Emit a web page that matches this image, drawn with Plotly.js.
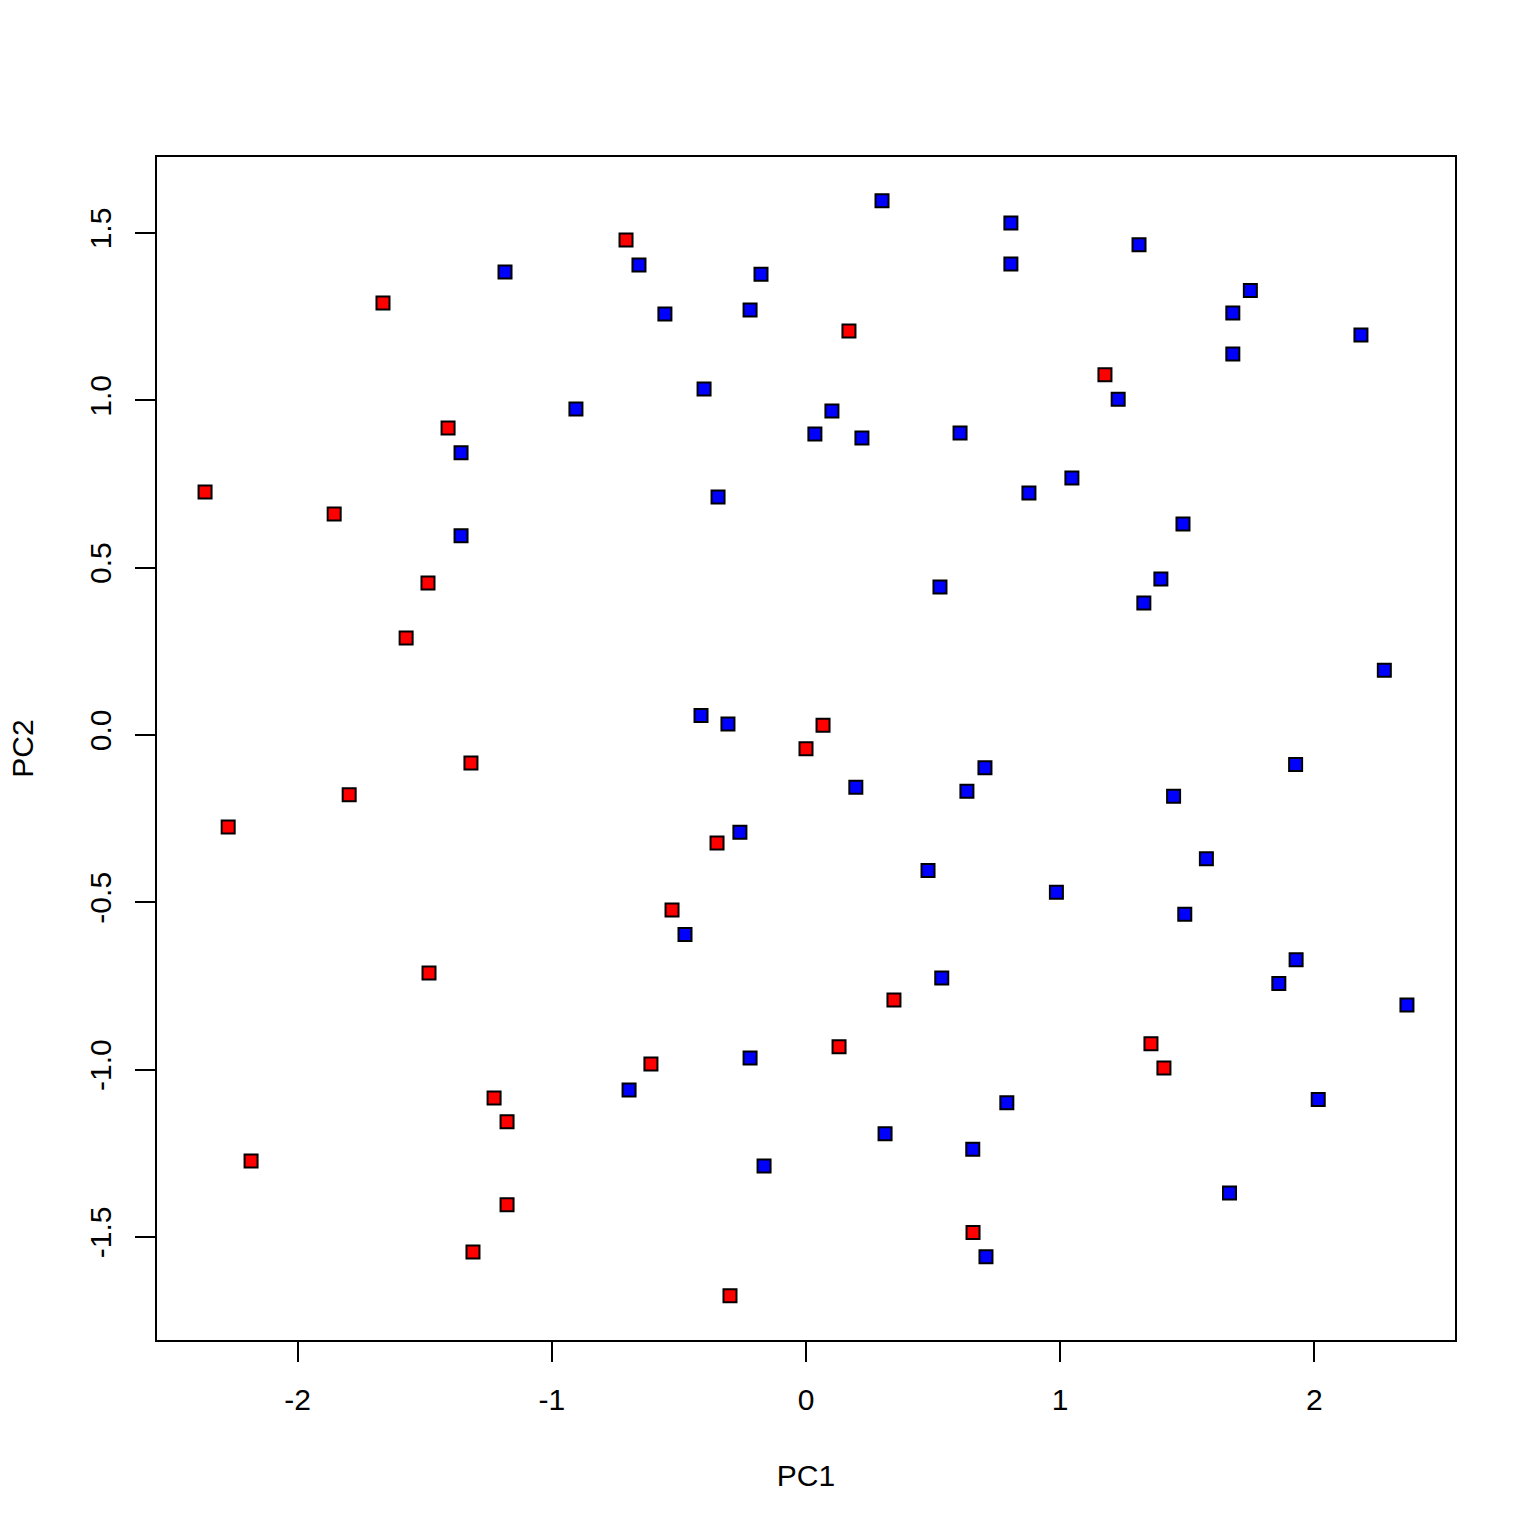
<!DOCTYPE html>
<html>
<head>
<meta charset="utf-8">
<script src="https://cdn.plot.ly/plotly-3.0.1.min.js"></script>
<style>html,body{margin:0;padding:0;background:#fff;}#chart{width:1536px;height:1536px;}</style>
</head>
<body>
<div id="chart"></div>
<script>
// Group 1 (red)
const redPC1 = [-2.364, -2.273, -2.183, -1.856, -1.797, -1.664, -1.573, -1.487, -1.483, -1.408,
                -1.318, -1.310, -1.227, -1.176, -1.176, -0.708, -0.610, -0.527, -0.350, -0.299,
                 0.000,  0.067,  0.130,  0.169,  0.346,  0.657,  1.176,  1.357,  1.408];
const redPC2 = [ 0.726, -0.275, -1.273,  0.660, -0.179,  1.291,  0.290,  0.454, -0.711,  0.917,
                -0.084, -1.545, -1.085, -1.156, -1.404,  1.479, -0.983, -0.523, -0.323, -1.676,
                -0.041,  0.029, -0.932,  1.207, -0.792, -1.487,  1.076, -0.923, -0.995];
// Group 2 (blue)
const bluePC1 = [-1.184, -1.357, -1.357, -0.905, -0.657, -0.555, -0.401, -0.346, -0.220, -0.177,
                 -0.413, -0.307, -0.260, -0.476, -0.696, -0.220, -0.165,  0.035,  0.102,  0.220,
                  0.299,  0.196,  0.311,  0.480,  0.527,  0.534,  0.606,  0.633,  0.704,  0.656,
                  0.708,  0.790,  0.806,  0.806,  0.877,  0.985,  1.046,  1.228,  1.310,  1.329,
                  1.396,  1.446,  1.483,  1.490,  1.575,  1.666,  1.679,  1.679,  1.748,  1.860,
                  1.926,  1.928,  2.015,  2.183,  2.275,  2.364];
const bluePC2 = [ 1.383,  0.843,  0.595,  0.974,  1.404,  1.258,  1.034,  0.711,  1.270,  1.377,
                  0.058,  0.033, -0.291, -0.596, -1.061, -0.965, -1.288,  0.899,  0.968,  0.887,
                  1.596, -0.156, -1.192, -0.405,  0.442, -0.726,  0.902, -0.168, -0.098, -1.238,
                 -1.559, -1.099,  1.530,  1.407,  0.723, -0.470,  0.768,  1.003,  1.465,  0.394,
                  0.466, -0.183,  0.630, -0.536, -0.370, -1.369,  1.261,  1.138,  1.328, -0.743,
                 -0.088, -0.672, -1.089,  1.195,  0.193, -0.807];

const xTickVals = [-2, -1, 0, 1, 2];
const xTickText = ["-2", "-1", "0", "1", "2"];
const yTickVals = [-1.5, -1.0, -0.5, 0.0, 0.5, 1.0, 1.5];
const yTickText = ["-1.5", "-1.0", "-0.5", "0.0", "0.5", "1.0", "1.5"];

const FONT = "Liberation Sans, Arial, Helvetica, sans-serif";
const FS = 30;

function mk(x, y, color) {
  return {
    type: 'scatter', mode: 'markers', x: x, y: y, showlegend: false, hoverinfo: 'skip',
    marker: {symbol: 'square', size: 13, color: color, line: {color: '#000', width: 2}}
  };
}

const data = [mk(redPC1, redPC2, '#ff0000'), mk(bluePC1, bluePC2, '#0000ff')];

const layout = {
  width: 1536, height: 1536,
  paper_bgcolor: '#fff', plot_bgcolor: '#fff',
  margin: {l: 157, r: 81, t: 157, b: 196, pad: 0},
  font: {family: FONT, size: FS, color: '#000'},
  xaxis: {
    range: [-2.553, 2.553], autorange: false, zeroline: false, showgrid: false,
    showline: true, mirror: true, linecolor: '#000', linewidth: 2,
    ticks: 'outside', ticklen: 20, tickwidth: 2, tickcolor: '#000',
    tickvals: xTickVals, ticktext: xTickText, ticklabelstandoff: 12,
    tickfont: {family: FONT, size: FS, color: '#000'},
    title: {text: 'PC1', font: {family: FONT, size: FS, color: '#000'}, standoff: 50}
  },
  yaxis: {
    range: [-1.808, 1.727], autorange: false, zeroline: false, showgrid: false,
    showline: true, mirror: true, linecolor: '#000', linewidth: 2,
    ticks: 'outside', ticklen: 20, tickwidth: 2, tickcolor: '#000',
    tickvals: yTickVals, ticktext: yTickText, tickangle: -90, ticklabelstandoff: 12,
    tickfont: {family: FONT, size: FS, color: '#000'},
    title: {text: 'PC2', font: {family: FONT, size: FS, color: '#000'}, standoff: 42}
  }
};

Plotly.newPlot('chart', data, layout, {staticPlot: true, displayModeBar: false});
</script>
</body>
</html>
